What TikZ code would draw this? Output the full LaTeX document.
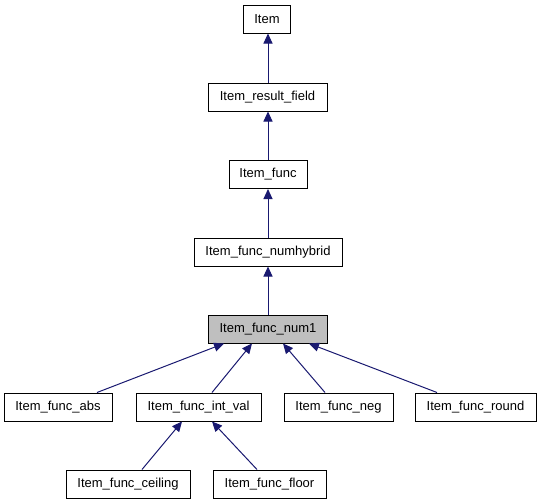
\documentclass[tikz,border=0pt]{standalone}
\usepackage{fontspec}
\setmainfont{Liberation Sans}
\usetikzlibrary{arrows.meta}
\definecolor{edgeblue}{HTML}{191970}
\definecolor{hlgray}{HTML}{BFBFBF}
\tikzset{
  cls/.style={draw=black, line width=1pt, fill=white, minimum height=28pt, inner sep=0pt, font=\fontsize{13}{15}\selectfont},
  inh/.style={draw=edgeblue, line width=1pt, -{Triangle[length=10pt,width=9pt]}, fill=none}
}
\begin{document}
\begin{tikzpicture}[x=1pt,y=-1pt]
\useasboundingbox (0,0) rectangle (539,504);
\node[cls, minimum width=47pt] (item) at (267,19) {Item};
\node[cls, minimum width=119pt] (rf) at (267.5,97) {Item\_result\_field};
\node[cls, minimum width=78pt] (func) at (268,174.5) {Item\_func};
\node[cls, minimum width=148pt] (nh) at (268,252) {Item\_func\_numhybrid};
\node[cls, minimum width=119pt, fill=hlgray] (num1) at (268,329) {Item\_func\_num1};
\node[cls, minimum width=108pt] (abs) at (58,407) {Item\_func\_abs};
\node[cls, minimum width=125pt] (intval) at (198.5,407) {Item\_func\_int\_val};
\node[cls, minimum width=109pt] (neg) at (338.5,407) {Item\_func\_neg};
\node[cls, minimum width=121pt] (round) at (475.5,407) {Item\_func\_round};
\node[cls, minimum width=124pt] (ceil) at (128,484) {Item\_func\_ceiling};
\node[cls, minimum width=113pt] (floor) at (269.5,484) {Item\_func\_floor};
\draw[inh] ([xshift=0.5pt]rf.north) -- ([xshift=1pt]item.south);
\draw[inh] (func.north) -- ([xshift=0.5pt]rf.south);
\draw[inh] (nh.north) -- (func.south);
\draw[inh] (num1.north) -- (nh.south);
\draw[inh] ([xshift=39pt]abs.north) -- ([xshift=-44pt]num1.south);
\draw[inh] ([xshift=13.5pt]intval.north) -- ([xshift=-16pt]num1.south);
\draw[inh] ([xshift=-13.5pt]neg.north) -- ([xshift=15pt]num1.south);
\draw[inh] ([xshift=-38.5pt]round.north) -- ([xshift=41pt]num1.south);
\draw[inh] ([xshift=14pt]ceil.north) -- ([xshift=-16.5pt]intval.south);
\draw[inh] ([xshift=-12.5pt]floor.north) -- ([xshift=13.5pt]intval.south);
\end{tikzpicture}
\end{document}
